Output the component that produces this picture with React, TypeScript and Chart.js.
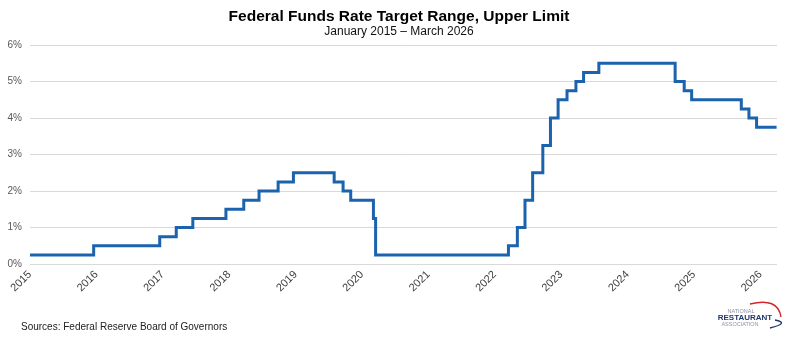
import React, { useEffect, useRef } from "react";
import { Chart, registerables } from "chart.js";

Chart.register(...registerables);

// Dates on which the upper limit of the target range changed (plus start and end of the period)
const changeDates: string[] = [
  "2015-01-01", "2015-12-17", "2016-12-15", "2017-03-16", "2017-06-15", "2017-12-14",
  "2018-03-22", "2018-06-14", "2018-09-27", "2018-12-20", "2019-08-01", "2019-09-19",
  "2019-10-31", "2020-03-04", "2020-03-16", "2022-03-17", "2022-05-05", "2022-06-16",
  "2022-07-28", "2022-09-22", "2022-11-03", "2022-12-15", "2023-02-02", "2023-03-23",
  "2023-05-04", "2023-07-27", "2024-09-19", "2024-11-08", "2024-12-19", "2025-09-18",
  "2025-10-30", "2025-12-11", "2026-03-31",
];
// Upper limit (%) in effect from each date
const upperLimit: number[] = [
  0.25, 0.5, 0.75, 1.0, 1.25, 1.5,
  1.75, 2.0, 2.25, 2.5, 2.25, 2.0,
  1.75, 1.25, 0.25, 0.5, 1.0, 1.75,
  2.5, 3.25, 4.0, 4.5, 4.75, 5.0,
  5.25, 5.5, 5.0, 4.75, 4.5, 4.25,
  4.0, 3.75, 3.75,
];
const yearTicks: number[] = [2015, 2016, 2017, 2018, 2019, 2020, 2021, 2022, 2023, 2024, 2025, 2026];
const yTickValues: number[] = [0, 1, 2, 3, 4, 5, 6];

const TITLE = "Federal Funds Rate Target Range, Upper Limit";
const SUBTITLE = "January 2015 \u2013 March 2026";
const SOURCE = "Sources: Federal Reserve Board of Governors";

function toDecimalYear(d: string): number {
  const [y, m, day] = d.split("-").map(Number);
  const start = Date.UTC(y, 0, 1);
  const end = Date.UTC(y + 1, 0, 1);
  return y + (Date.UTC(y, m - 1, day) - start) / (end - start);
}

const FONT = "'Liberation Sans', Arial, sans-serif";

const textPlugin = {
  id: "textPlugin",
  afterDraw(chart: any) {
    const ctx = chart.ctx as CanvasRenderingContext2D;
    ctx.save();
    ctx.textAlign = "center";
    ctx.textBaseline = "middle";
    ctx.fillStyle = "#000";
    ctx.font = `bold 15.5px ${FONT}`;
    ctx.fillText(TITLE, 399, 17);
    ctx.font = `12px ${FONT}`;
    ctx.fillStyle = "#111";
    ctx.fillText(SUBTITLE, 399, 32);

    ctx.textAlign = "left";
    ctx.font = `10px ${FONT}`;
    ctx.fillStyle = "#222";
    ctx.fillText(SOURCE, 21, 327);

    // logo
    ctx.textAlign = "center";
    ctx.font = `5.5px ${FONT}`;
    ctx.fillStyle = "#8c93a8";
    ctx.fillText("NATIONAL", 741, 311);
    ctx.font = `bold 8px ${FONT}`;
    ctx.fillStyle = "#22386b";
    ctx.fillText("RESTAURANT", 745, 317.5);
    ctx.font = `5.5px ${FONT}`;
    ctx.fillStyle = "#8c93a8";
    ctx.fillText("ASSOCIATION", 740, 324);

    ctx.strokeStyle = "#d4232b";
    ctx.lineWidth = 1.4;
    ctx.beginPath();
    ctx.moveTo(750, 304);
    ctx.quadraticCurveTo(778, 297, 781, 317);
    ctx.stroke();
    ctx.strokeStyle = "#22386b";
    ctx.lineWidth = 1.4;
    ctx.beginPath();
    ctx.moveTo(775, 320);
    ctx.quadraticCurveTo(790, 323, 770, 328);
    ctx.stroke();
    ctx.restore();
  },
};

export default function App() {
  const ref = useRef<HTMLCanvasElement | null>(null);
  useEffect(() => {
    document.body.style.margin = "0";
    if (!ref.current) return;
    const points = changeDates.map((d, i) => ({ x: toDecimalYear(d), y: upperLimit[i] }));
    const chart = new Chart(ref.current, {
      type: "line",
      data: {
        datasets: [
          {
            label: "Upper limit",
            data: points,
            borderColor: "#1b63ad",
            borderWidth: 3,
            pointRadius: 0,
            stepped: true,
            fill: false,
          },
        ],
      },
      options: {
        animation: false,
        responsive: false,
        devicePixelRatio: 1,
        layout: { padding: { left: 0, right: 21, top: 45, bottom: 0 } },
        plugins: { legend: { display: false }, tooltip: { enabled: false }, title: { display: false } },
        scales: {
          x: {
            type: "linear",
            min: yearTicks[0],
            max: 2026.25,
            grid: { display: false, drawTicks: false },
            border: { display: false },
            afterBuildTicks: (scale: any) => {
              scale.ticks = yearTicks.map((v) => ({ value: v }));
            },
            ticks: {
              includeBounds: false,
              autoSkip: false,
              minRotation: 45,
              maxRotation: 45,
              padding: 4,
              color: "#404040",
              font: { family: FONT, size: 11 },
              callback: (v: any) => String(v),
            },
            afterFit: (scale: any) => {
              scale.height = 75;
            },
          },
          y: {
            min: 0,
            max: 6,
            afterBuildTicks: (scale: any) => {
              scale.ticks = yTickValues.map((v) => ({ value: v }));
            },
            grid: { color: "#d9d9d9", lineWidth: 1, drawTicks: false },
            border: { display: false },
            ticks: {
              padding: 8,
              color: "#595959",
              font: { family: FONT, size: 10 },
              callback: (v: any) => `${v}%`,
            },
            afterFit: (scale: any) => {
              scale.width = 30;
            },
          },
        },
      },
      plugins: [textPlugin],
    });
    return () => chart.destroy();
  }, []);
  return (
    <div style={{ position: "fixed", left: 0, top: 0, width: 798, height: 339, background: "#fff" }}>
      <canvas ref={ref} width={798} height={339} />
    </div>
  );
}
